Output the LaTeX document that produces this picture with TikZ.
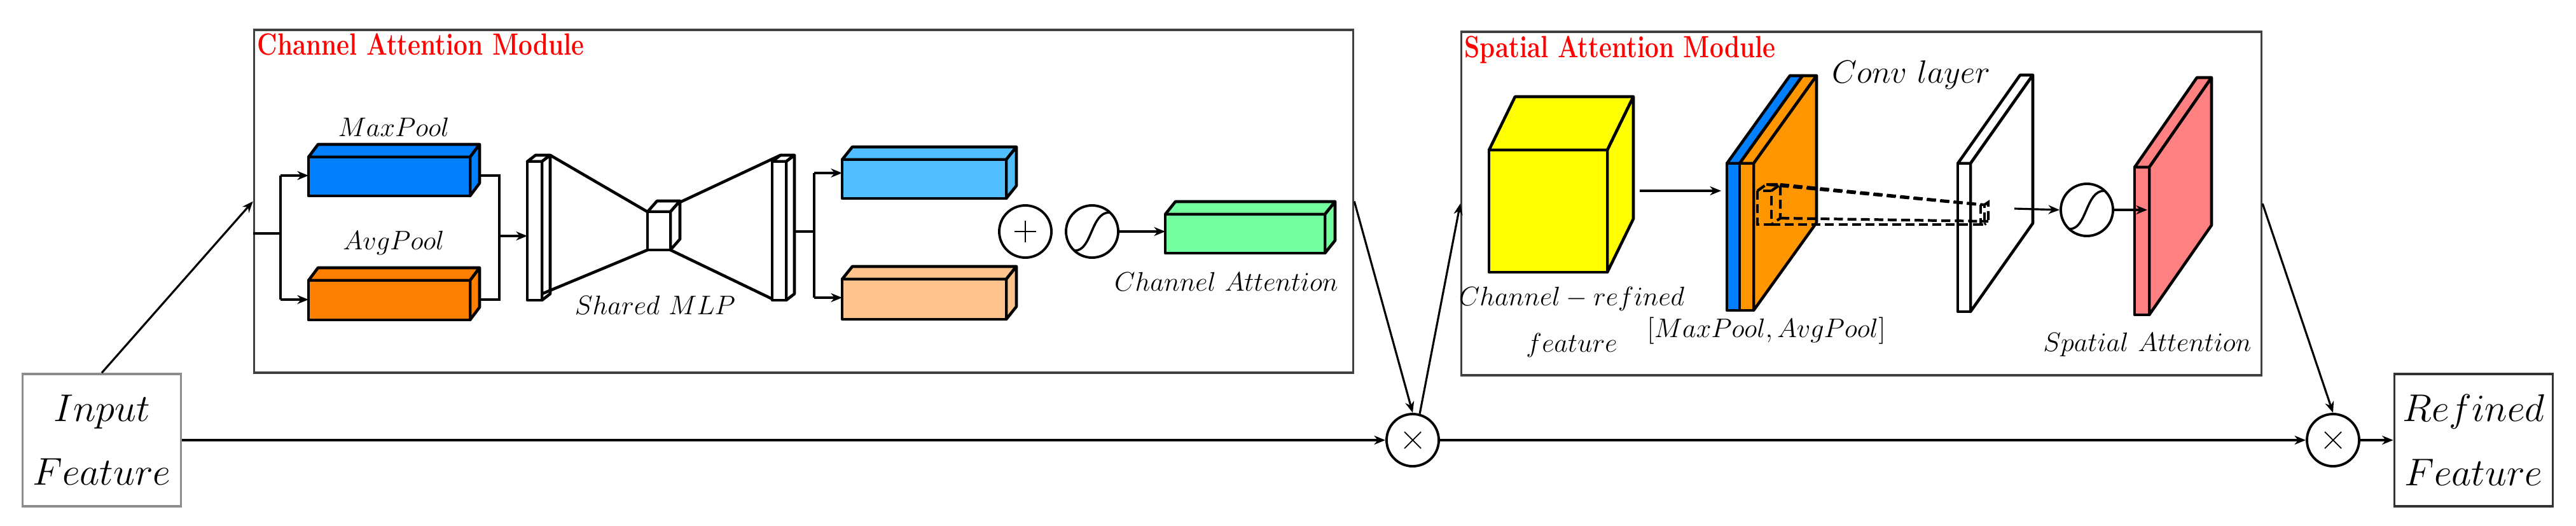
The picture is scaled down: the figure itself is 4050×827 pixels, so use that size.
\documentclass[tikz,border=0pt]{standalone}
\usetikzlibrary{arrows.meta,calc}
\definecolor{cmax}{RGB}{0,128,255}
\definecolor{cavg}{RGB}{255,128,0}
\definecolor{cmaxl}{RGB}{80,190,255}
\definecolor{cavgl}{RGB}{255,196,140}
\definecolor{cgreen}{RGB}{115,255,160}
\definecolor{cyel}{RGB}{255,255,0}
\definecolor{corg}{RGB}{255,150,0}
\definecolor{cpink}{RGB}{255,128,128}
\newcommand{\cub}[7]{%
  \filldraw[cubst,fill=#7] (#1,#2) -- ++(#5,#6) -- ({#3+#5},{#2+#6}) -- (#3,#2) -- cycle;
  \filldraw[cubst,fill=#7] (#3,#2) -- ({#3+#5},{#2+#6}) -- ({#3+#5},{#4+#6}) -- (#3,#4) -- cycle;
  \filldraw[cubst,fill=#7] (#1,#2) rectangle (#3,#4);}
\begin{document}
\begin{tikzpicture}[x=0.01cm,y=-0.01cm,
  cubst/.style={line width=1.3pt,line join=round},
  conn/.style={line width=0.9pt},
  arr/.style={conn,-{Stealth[length=5pt,width=4pt]}},
  modbox/.style={draw=black!75,line width=1pt,inner sep=0pt},
  iobox/.style={draw,line width=1pt,inner sep=0pt,minimum width=2.49cm,minimum height=2.08cm,align=center,font=\fontsize{17}{28.5}\selectfont},
  op/.style={circle,draw,line width=1.1pt,minimum size=0.82cm,inner sep=0pt},
  lbl/.style={font=\fontsize{12}{14}\selectfont,inner sep=0pt},
  ttl/.style={text=red,font=\fontsize{11}{12}\selectfont,inner sep=0pt,anchor=north west}]
\useasboundingbox (0,0) rectangle (4050,827);
% outer nodes
\node[iobox,draw=black!45] (in1) at (160,692) {$Input$\\$Feature$};
\node[iobox,draw=black!80] (out) at (3889,692) {$Refined$\\$Feature$};
\node[modbox,minimum width=17.27cm,minimum height=5.39cm] (cam) at (1263.5,316.5) {};
\node[modbox,minimum width=12.57cm,minimum height=5.40cm] (sam) at (2926.5,320) {};
\node[ttl] at (404,52) {\scalebox{1}[1.25]{\textbf{Channel Attention Module}}};
\node[ttl] at (2302,56) {\scalebox{1}[1.25]{\textbf{Spatial Attention Module}}};
\node[op] (mul1) at (2221,692) {};
\draw[line width=0.5pt] ($(mul1)+(-13,-13)$) -- ($(mul1)+(13,13)$) ($(mul1)+(-13,13)$) -- ($(mul1)+(13,-13)$);
\node[op] (mul2) at (3668,692) {};
\draw[line width=0.5pt] ($(mul2)+(-13,-13)$) -- ($(mul2)+(13,13)$) ($(mul2)+(-13,13)$) -- ($(mul2)+(13,-13)$);
\draw[arr] (in1.north) -- (cam.west);
\draw[arr] (in1.east) -- (mul1.west);
\draw[arr] (cam.east) -- (mul1.north);
\draw[arr] (mul1.75) -- (sam.west);
\draw[arr] (mul1.east) -- (mul2.west);
\draw[arr] (sam.east) -- (mul2.north);
\draw[arr] (mul2.east) -- (out.west);
% ---------- channel attention ----------
\coordinate (spl) at (441,367);
\draw[conn] (cam.west |- spl) -- (spl);
\draw[conn] (441,276) -- (441,471);
\draw[arr] (441,276) -- (485,276);
\draw[arr] (441,471) -- (485,471);
\cub{485}{247}{739}{308}{15}{-20}{cmax}
\cub{485}{441}{739}{503}{15}{-20}{cavg}
\node[lbl] at (619,200) {$MaxPool$};
\node[lbl] at (619,382) {$AvgPool$};
\draw[conn] (754,276) -- (785,276) -- (785,471) -- (754,471);
\draw[arr] (785,371) -- (829,371);
% MLP
\cub{829}{254}{852}{472}{13}{-10}{white}
\cub{1214}{254}{1236}{472}{13}{-10}{white}
\cub{1018}{333}{1054}{393}{15}{-17}{white}
\draw[cubst] (865,244) -- (1018,333) (852,462) -- (1018,393)
  (1069,318) -- (1227,244) (1054,393) -- (1214,470);
\node[lbl] at (1030,480) {$Shared\ MLP$};
\draw[conn] (1249,364) -- (1280,364);
\draw[conn] (1280,272) -- (1280,468);
\draw[arr] (1280,272) -- (1324,272);
\draw[arr] (1280,468) -- (1324,468);
\cub{1324}{251}{1582}{312}{16}{-20}{cmaxl}
\cub{1324}{439}{1582}{502}{16}{-20}{cavgl}
\node[op] (plus) at (1612,364) {};
\draw[line width=0.5pt] ($(plus)+(-17,0)$) -- ($(plus)+(17,0)$) ($(plus)+(0,-17)$) -- ($(plus)+(0,17)$);
\node[op] (sig1) at (1717,364) {};
\draw[line width=1pt] ($(sig1)+(-27,30)$) .. controls ($(sig1)+(0,30)$) and ($(sig1)+(-2,-30)$) .. ($(sig1)+(27,-30)$);
\coordinate (ca) at (1832,364);
\cub{1832}{337}{2083}{398}{16}{-20}{cgreen}
\draw[arr] (sig1.east) -- (ca);
\node[lbl] at (1928,443) {$Channel\ Attention$};
% ---------- spatial attention ----------
\cub{2341}{236}{2527}{428}{41}{-84}{cyel}
\node[lbl,font=\fontsize{13}{14}\selectfont] at (2471,470) {$Channel-refined$};
\node[lbl,font=\fontsize{13}{14}\selectfont] at (2471,543) {$feature$};
\coordinate (sa1) at (2578,300);
\coordinate (sa2) at (2706,300);
\draw[arr] (sa1) -- (sa2);
\cub{2715}{257}{2735}{488}{99}{-138}{cmax}
\cub{2735}{257}{2757}{488}{99}{-138}{corg}
\node[lbl,font=\fontsize{13}{14}\selectfont] at (2777,520) {$[MaxPool,AvgPool]$};
\cub{3078}{257}{3098}{490}{98}{-139}{white}
\node[lbl,font=\fontsize{14}{15}\selectfont] at (3005,118) {$Conv\ layer$};
\begin{scope}[line width=1.2pt,dash pattern=on 4pt off 2pt]
\draw (2763,300) rectangle (2785,353);
\draw (2763,300) -- (2777,290) -- (2799,290) -- (2799,343) -- (2785,353) (2785,300) -- (2799,290);
\draw (3114,322) rectangle (3120,353);
\draw (3120,322) -- (3126,318) -- (3126,348) -- (3120,353);
\draw (2799,290) -- (3120,322);
\draw (2777,290) -- (3114,322);
\draw (2785,353) -- (3114,353);
\draw (2799,343) -- (3126,348);
\end{scope}
\node[op] (sig2) at (3281,330) {};
\draw[line width=1pt] ($(sig2)+(-27,30)$) .. controls ($(sig2)+(0,30)$) and ($(sig2)+(-2,-30)$) .. ($(sig2)+(27,-30)$);
\coordinate (cv) at (3167,328);
\draw[arr] (cv) -- (sig2.west);
\coordinate (pk) at (3376,330);
\cub{3356}{263}{3379}{495}{98}{-141}{cpink}
\draw[arr] (sig2.east) -- (pk);
\node[lbl,font=\fontsize{13}{14}\selectfont] at (3376,542) {$Spatial\ Attention$};
\end{tikzpicture}
\end{document}
